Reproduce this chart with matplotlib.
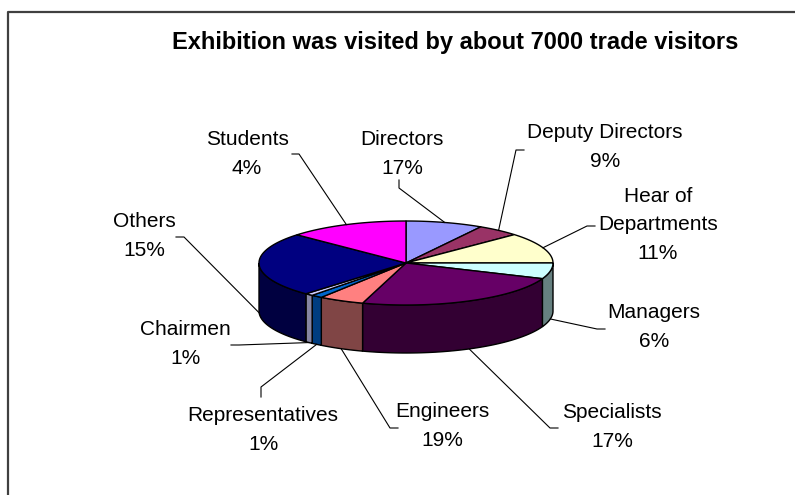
import numpy as np
import matplotlib
matplotlib.use("Agg")
import matplotlib.pyplot as plt
from matplotlib.patches import Polygon
from matplotlib.lines import Line2D

# ---- data ----
categories = ['Directors', 'Deputy Directors', 'Hear of\nDepartments', 'Managers',
              'Specialists', 'Engineers', 'Representatives', 'Chairmen', 'Others', 'Students']
label_pct = [17, 9, 11, 6, 17, 19, 1, 1, 15, 4]          # percentages printed on the chart
slice_share = [8.5, 4.7, 11.8, 6.1, 23.7, 5.0, 1.25, 0.9, 24.8, 13.3]  # slice sizes as drawn
top_colors = ['#9999FF', '#993366', '#FFFFCC', '#CCFFFF', '#660066',
              '#FF8080', '#0066CC', '#CCCCFF', '#000080', '#FF00FF']
side_colors = ['#4D4D80', '#4D1A33', '#808066', '#668080', '#330033',
               '#804545', '#003D80', '#8585A3', '#000040', '#800080']
title = 'Exhibition was visited by about 7000 trade visitors'

# ---- layout ----
W, H = 795, 495
cx, cy, a, b, depth = 406, 263, 147, 42, 48
label_xy = [(402, 154), (605, 147), (658, 225), (654, 327), (612, 427),
            (442, 426), (263, 430), (185, 344), (144, 236), (247, 154)]
# leader: label-side attach point and elbow
leader_pts = [((399, 180), (399, 188)), ((524, 150), (516, 150)), ((595, 226), (587, 226)),
              ((605, 329), (597, 329)), ((558, 428), (550, 428)), ((398, 428), (390, 428)),
              ((261, 397), (261, 387)), ((231, 345), (239, 345)), ((176, 237), (184, 237)),
              ((292, 154), (299, 154))]

fig = plt.figure(figsize=(W / 100, H / 100), dpi=100)
ax = fig.add_axes([0, 0, 1, 1])
ax.set_xlim(0, W)
ax.set_ylim(H, 0)
ax.axis('off')

def pt(theta_deg, dz=0.0):
    t = np.radians(theta_deg)
    return cx + a * np.cos(t), cy - b * np.sin(t) + dz

total = float(sum(slice_share))
angles = [90.0]
for s in slice_share:
    angles.append(angles[-1] - 360.0 * s / total)

# side walls (front half: angles between -180 and 0)
for i in range(len(slice_share)):
    hi, lo = angles[i], angles[i + 1]
    h2, l2 = min(hi, 0.0), max(lo, -180.0)
    if h2 <= l2:
        continue
    th = np.linspace(h2, l2, 60)
    top = [pt(t) for t in th]
    bot = [pt(t, depth) for t in th[::-1]]
    ax.add_patch(Polygon(top + bot, closed=True, facecolor=side_colors[i],
                         edgecolor='black', lw=1.0, zorder=2))

# top faces
for i in range(len(slice_share)):
    hi, lo = angles[i], angles[i + 1]
    th = np.linspace(hi, lo, max(4, int(abs(hi - lo) * 2)))
    poly = [(cx, cy)] + [pt(t) for t in th]
    ax.add_patch(Polygon(poly, closed=True, facecolor=top_colors[i],
                         edgecolor='black', lw=1.0, joinstyle='round', zorder=3))

# labels and leader lines
fp = dict(family='Liberation Sans', fontsize=15, color='black')
for i, name in enumerate(categories):
    mid = (angles[i] + angles[i + 1]) / 2.0
    s = np.sin(np.radians(mid))
    anchor = pt(mid, depth if s < 0 else 0.0)
    (x1, y1), (x2, y2) = leader_pts[i]
    ax.add_line(Line2D([x1, x2, anchor[0]], [y1, y2, anchor[1]], color='black',
                       lw=0.8, zorder=4))
    lx, ly = label_xy[i]
    ax.text(lx, ly, f'{name}\n{label_pct[i]}%', ha='center', va='center',
            multialignment='center', linespacing=1.62, **fp)

ax.text(455, 42, title, ha='center', va='center', family='Liberation Sans',
        fontsize=17, fontweight='bold', color='black')

# chart-area border (left and top visible)
ax.add_line(Line2D([7.5, 7.5, W], [H, 12, 12], color='#404040', lw=1.6))

fig.savefig('out.png', dpi=100)
